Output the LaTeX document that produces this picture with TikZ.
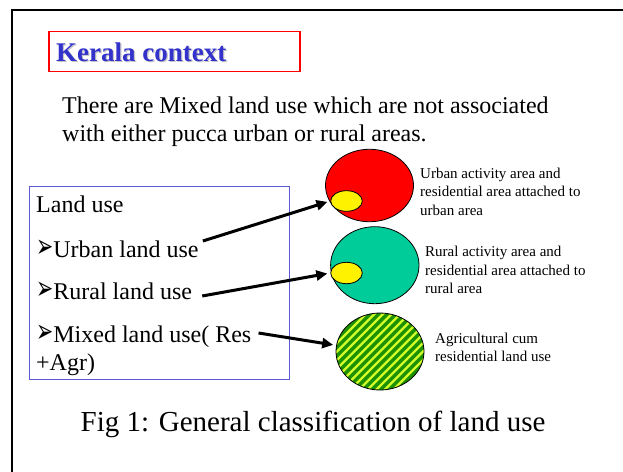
\documentclass[tikz,border=0pt]{standalone}
\usepackage{fontspec}
\usepackage{graphicx}
\setmainfont{Liberation Serif}
\newfontfamily\symfont{DejaVu Sans}
\usetikzlibrary{shapes.geometric,arrows.meta,calc}
\definecolor{titleblue}{RGB}{51,51,204}
\definecolor{boxblue}{RGB}{90,90,210}
\definecolor{tealc}{RGB}{0,204,153}
\definecolor{darkg}{RGB}{30,145,0}
\definecolor{lightg}{RGB}{210,255,40}
\newcommand{\arrbul}{\scalebox{1}[1.6]{\symfont\fontsize{20.5}{20}\selectfont ➢}}
\begin{document}
\begin{tikzpicture}[x=1pt,y=-1pt,
  txt/.style={inner sep=0pt, anchor=base west, font=\fontsize{24}{28}\selectfont},
  small/.style={inner sep=0pt, anchor=base west, font=\fontsize{15}{18.5}\selectfont},
  blob/.style={ellipse, draw=black, line width=0.8pt, inner sep=0pt},
  conn/.style={line width=3pt, -{Triangle[length=11pt,width=10pt]}, shorten >=3pt}]
\useasboundingbox (0,0) rectangle (623,471);
% outer frame
\draw[line width=2pt] (12,480) -- (12,10) -- (630,10);
% title
\node[draw=red, line width=1.2pt, minimum width=251pt, minimum height=39.5pt, inner sep=0pt] (titlebox) at (174.5,51.5) {};
\node[inner sep=0pt, anchor=base west, text=gray!45, font=\fontsize{27}{30}\selectfont\bfseries] (titleshadow) at (57.2,62.2) {Kerala context};
\node[inner sep=0pt, anchor=base west, text=titleblue, font=\fontsize{27}{30}\selectfont\bfseries] (title) at (56,61) {Kerala context};
% intro text
\node[txt] (m1) at (62,113) {There are Mixed land use which are not associated};
\node[txt] (m2) at (62,141) {with either pucca urban or rural areas.};
% land use box
\node[draw=boxblue, line width=0.9pt, minimum width=260pt, minimum height=193pt, inner sep=0pt] (lubox) at (159,282.5) {};
\node[txt] (lu0) at (36,212) {Land use};
\node[txt] (lu1) at (36,257) {\arrbul Urban land use};
\node[txt] (lu2) at (36,299) {\arrbul Rural land use};
\node[txt] (lu3) at (36,342) {\arrbul Mixed land use( Res};
\node[txt] (lu4) at (36,370) {+Agr)};
% circles
\node[blob, fill=red, minimum width=88pt, minimum height=72.5pt] (red) at (369.5,185.5) {};
\node[blob, fill=yellow, minimum width=31.6pt, minimum height=20.6pt] (y1) at (346.5,201) {};
\node[blob, fill=tealc, minimum width=88.4pt, minimum height=77pt] (teal) at (374.8,265.2) {};
\node[blob, fill=yellow, minimum width=31.6pt, minimum height=21.4pt] (y2) at (346.5,273) {};
\node[blob, fill=darkg, minimum width=88pt, minimum height=77pt,
  path picture={\foreach \k in {-12,...,12}{\draw[lightg, line width=2.3pt]
    ([xshift=\k*8.6pt]path picture bounding box.center) ++(-70pt,-70pt) -- ++(140pt,140pt);}}] (green) at (380,351.5) {};
% labels
\node[small] (ua) at (420,178.3) {Urban activity area and};
\node[small] (ub) at (420,196.8) {residential area attached to};
\node[small] (uc) at (420,215.3) {urban area};
\node[small] (ra) at (425,256.7) {Rural activity area and};
\node[small] (rb) at (425,275.2) {residential area attached to};
\node[small] (rc) at (425,293.7) {rural area};
\node[small] (aa) at (435,343) {Agricultural cum};
\node[small] (ab) at (435,361.5) {residential land use};
% arrows
\draw[conn] ($(lu1.base east)+(4,-16)$) -- (y1.west);
\draw[conn] ($(lu2.base east)+(10,-3)$) -- (y2.west);
\draw[conn] ($(lu3.base east)+(7,-9)$) -- (green.172);
% caption
\node[inner sep=0pt, anchor=base west, font=\fontsize{29}{32}\selectfont] (cap) at (80.5,431.7) {Fig 1: General classification of land use};
\end{tikzpicture}
\end{document}
